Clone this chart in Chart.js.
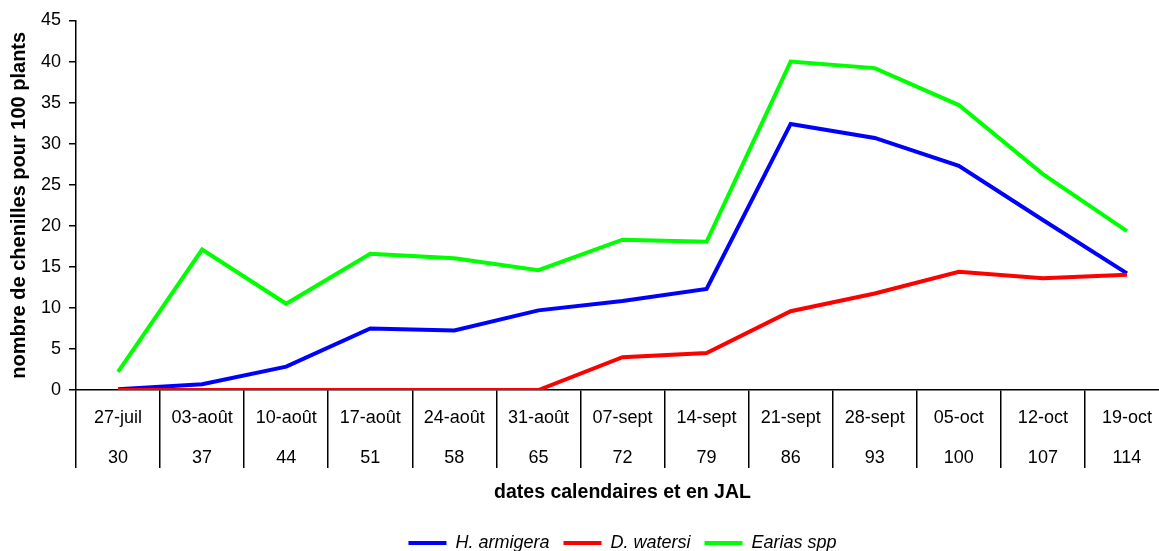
<!DOCTYPE html>
<html>
<head>
<meta charset="utf-8">
<script src="https://cdn.jsdelivr.net/npm/chart.js@4/dist/chart.umd.min.js"></script>
<style>
  html, body { margin: 0; padding: 0; background: #ffffff; overflow: hidden; }
  #wrap { width: 1175px; height: 562px; }
</style>
</head>
<body>
<div id="wrap"><canvas id="c" width="1175" height="562"></canvas></div>
<script>
// Relevés hebdomadaires : date calendaire et jours après levée (JAL)
const dates = ['27-juil', '03-août', '10-août', '17-août', '24-août', '31-août', '07-sept',
               '14-sept', '21-sept', '28-sept', '05-oct', '12-oct', '19-oct'];
const jal = ['30', '37', '44', '51', '58', '65', '72', '79', '86', '93', '100', '107', '114'];

// Nombre de chenilles pour 100 plants
const hArmigera = [0.1, 0.7, 2.85, 7.5, 7.25, 9.7, 10.85, 12.3, 32.4, 30.7, 27.3, 20.7, 14.2];
const dWatersi  = [0, 0, 0, 0, 0, 0, 4.0, 4.5, 9.6, 11.75, 14.4, 13.6, 14.05];
const eariasSpp = [2.2, 17.1, 10.5, 16.6, 16.05, 14.6, 18.3, 18.05, 40.0, 39.2, 34.7, 26.3, 19.35];

const yTicks = [0, 5, 10, 15, 20, 25, 30, 35, 40, 45];

const labels = dates.map((d, i) => [d, jal[i]]);
const FONT = "'Liberation Sans', Arial, sans-serif";

function series(label, data, color, order) {
  return {
    label, data, order,
    borderColor: color,
    backgroundColor: color,
    borderWidth: 4,
    pointRadius: 0,
    pointHoverRadius: 0,
    pointStyle: 'line',
    tension: 0,
    fill: false
  };
}

new Chart(document.getElementById('c'), {
  type: 'line',
  data: {
    labels,
    datasets: [
      series('H. armigera', hArmigera, '#0000ff', 3),
      series('D. watersi', dWatersi, '#ff0000', 2),
      series('Earias spp', eariasSpp, '#00ff00', 1)
    ]
  },
  options: {
    responsive: false,
    animation: false,
    devicePixelRatio: 1,
    layout: { padding: { top: 20.5, left: 2, right: 6, bottom: 0 } },
    plugins: {
      tooltip: { enabled: false },
      legend: {
        position: 'bottom',
        fullSize: false,
        reverse: true,
        labels: {
          usePointStyle: true,
          pointStyleWidth: 38,
          padding: 14,
          color: '#000000',
          font: { family: FONT, size: 18, style: 'italic' }
        }
      }
    },
    scales: {
      x: {
        type: 'category',
        offset: true,
        afterFit: (s) => { s.height = 130; },
        grid: {
          offset: true,
          drawOnChartArea: false,
          drawTicks: true,
          tickLength: 78,
          color: '#000000',
          lineWidth: 1.5
        },
        border: { display: true, color: '#000000', width: 1.5 },
        ticks: {
          color: '#000000',
          padding: -70,
          maxRotation: 0,
          autoSkip: false,
          font: { family: FONT, size: 18, lineHeight: 40 / 18 }
        },
        title: {
          display: true,
          text: 'dates calendaires et en JAL',
          color: '#000000',
          font: { family: FONT, size: 19.5, weight: 'bold' },
          padding: { top: 6, bottom: 15.3 }
        }
      },
      y: {
        min: 0,
        max: 45,
        afterFit: (s) => { s.width = 74; },
        afterBuildTicks: (scale) => { scale.ticks = yTicks.map(v => ({ value: v })); },
        grid: {
          drawOnChartArea: false,
          drawTicks: true,
          tickLength: 7,
          color: '#000000',
          lineWidth: 1.5
        },
        border: { display: true, color: '#000000', width: 1.5 },
        ticks: {
          color: '#000000',
          padding: 8,
          font: { family: FONT, size: 18 }
        },
        title: {
          display: true,
          text: 'nombre de chenilles pour 100 plants',
          color: '#000000',
          font: { family: FONT, size: 20, weight: 'bold' },
          padding: { top: 5, bottom: 11 }
        }
      }
    }
  }
});
</script>
</body>
</html>
